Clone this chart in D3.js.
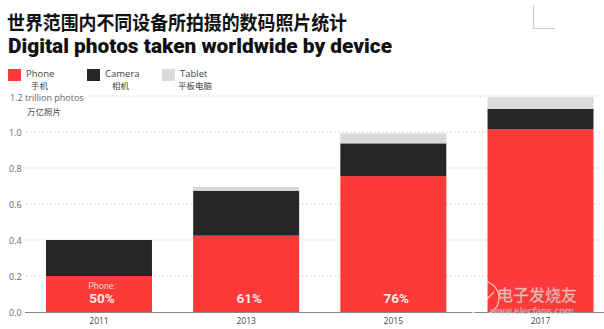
<!DOCTYPE html>
<html><head><meta charset="utf-8">
<script src="https://cdn.jsdelivr.net/npm/d3@7"></script>
<style>body{margin:0;background:#fff}svg{display:block}</style>
</head><body>
<script>
const years = ["2011","2013","2015","2017"];
const phone = [0.20, 0.424, 0.755, 1.015];
const camera = [0.20, 0.250, 0.182, 0.114];
const tablet = [0.00, 0.022, 0.056, 0.064];
const phoneShare = ["50%","61%","76%",""];
const yTicks = [0, 0.2, 0.4, 0.6, 0.8, 1.0];
const yTickLabels = ["0.0","0.2","0.4","0.6","0.8","1.0"];
const seriesNames = ["Phone","Camera","Tablet"];
const seriesNamesZh = ["手机","相机","平板电脑"];
const colors = ["#fd3a3a","#262626","#d9d9d9"];

const W = 604, H = 329;
const svg = d3.select("body").append("svg").attr("width", W).attr("height", H);

const x = d3.scaleBand().domain(years).range([46, 593.5]).paddingInner(0.28).paddingOuter(0);
const y = d3.scaleLinear().domain([0, 1.2]).range([312, 96]);

// titles
svg.append("text").attr("x", 7).attr("y", 30)
  .style("font-family", "'Noto Sans CJK SC'").style("font-weight", 700).style("font-size", "19.5px")
  .attr("fill", "#111").attr("textLength", 340).attr("lengthAdjust", "spacingAndGlyphs")
  .text("世界范围内不同设备所拍摄的数码照片统计");
svg.append("text").attr("x", 8).attr("y", 53)
  .style("font-family", "Roboto").style("font-weight", 900).style("font-size", "19.5px")
  .attr("fill", "#111").attr("textLength", 384).attr("lengthAdjust", "spacingAndGlyphs")
  .text("Digital photos taken worldwide by device");

// decorative corner mark
svg.append("path").attr("d", "M533.5,5V28.5H555").attr("fill", "none").attr("stroke", "#ccc").attr("stroke-width", 1.2);

// legend
const legX = [8, 87, 162];
const legZhX = [31, 112, 178];
seriesNames.forEach((n, i) => {
  svg.append("rect").attr("x", legX[i]).attr("y", 69).attr("width", 13).attr("height", 12).attr("fill", colors[i]);
  svg.append("text").attr("x", legX[i] + 18).attr("y", 77)
    .style("font-family", "'Open Sans'").style("font-size", "9.5px").attr("fill", "#444").text(n);
  svg.append("text").attr("x", legZhX[i]).attr("y", 88.5)
    .style("font-family", "'Noto Sans CJK SC'").style("font-size", "8.5px").attr("fill", "#444").text(seriesNamesZh[i]);
});

// gridlines
const grid = svg.append("g");
yTicks.filter(t => t > 0).forEach(t => {
  grid.append("line").attr("x1", 26).attr("x2", 602).attr("y1", y(t)).attr("y2", y(t))
    .attr("stroke", "#ccc").attr("stroke-dasharray", "1.5,2.5").attr("stroke-width", 1);
});
grid.append("line").attr("x1", 88).attr("x2", 602).attr("y1", y(1.2)).attr("y2", y(1.2))
  .attr("stroke", "#ccc").attr("stroke-dasharray", "1.5,2.5").attr("stroke-width", 1);

// y labels
const yAxis = d3.axisLeft(y).tickValues(yTicks).tickFormat((d, i) => yTickLabels[i]).tickSize(0);
const ya = svg.append("g").attr("transform", "translate(9,0)").call(yAxis);
ya.select(".domain").remove();
ya.selectAll("text").attr("text-anchor", "start").attr("x", 0).attr("dy", "0.35em")
  .style("font-family", "'Open Sans'").style("font-size", "9px").attr("fill", "#666");
svg.append("text").attr("x", 10).attr("y", 101)
  .style("font-family", "'Open Sans'").style("font-size", "9px").attr("fill", "#666").text("1.2 trillion photos");
svg.append("text").attr("x", 27).attr("y", 114.5)
  .style("font-family", "'Noto Sans CJK SC'").style("font-size", "8.5px").attr("fill", "#444").text("万亿照片");

// stacked bars
const rows = years.map((yr, i) => ({year: yr, Phone: phone[i], Camera: camera[i], Tablet: tablet[i]}));
const stack = d3.stack().keys(seriesNames)(rows);
stack.forEach((s, si) => {
  svg.append("g").attr("fill", colors[si]).selectAll("rect").data(s).join("rect")
    .attr("x", d => x(d.data.year)).attr("width", x.bandwidth())
    .attr("y", d => y(d[1])).attr("height", d => Math.max(0, y(d[0]) - y(d[1])));
});

// baseline axis
const xa = svg.append("g").attr("transform", "translate(0,312)")
  .call(d3.axisBottom(x).tickSize(0).tickPadding(6));
xa.select(".domain").remove();
svg.append("line").attr("x1", 25).attr("x2", 604).attr("y1", 312.5).attr("y2", 312.5).attr("stroke", "#888").attr("stroke-width", 1);
xa.selectAll("text").style("font-family", "'Open Sans'").style("font-size", "8.5px").attr("fill", "#444");

// phone share labels
years.forEach((yr, i) => {
  if (!phoneShare[i]) return;
  const cx = x(yr) + x.bandwidth() / 2 + 3;
  svg.append("text").attr("x", cx).attr("y", 303).attr("text-anchor", "middle")
    .style("font-family", "Roboto").style("font-weight", 700).style("font-size", "13.5px").attr("fill", "#fbe9e9").text(phoneShare[i]);
  if (i === 0) {
    svg.append("text").attr("x", cx).attr("y", 289).attr("text-anchor", "middle")
      .style("font-family", "Roboto").style("font-size", "9px").attr("fill", "#f6cfcf").text("Phone:");
  }
});

// watermark
const wm = svg.append("g").attr("opacity", 0.7);
wm.append("circle").attr("cx", 482).attr("cy", 298).attr("r", 17).attr("fill", "none").attr("stroke", "#fff").attr("stroke-width", 1.2);
wm.append("path").attr("d", "M470,304 L478,296 L486,300 L494,292").attr("fill", "none").attr("stroke", "#fff").attr("stroke-width", 1.2);
wm.append("text").attr("x", 497).attr("y", 301)
  .style("font-family", "'Noto Sans CJK SC'").style("font-size", "16px").attr("fill", "#fff")
  .attr("stroke", "#bbb").attr("stroke-width", 0.4).text("电子发烧友");
wm.append("text").attr("x", 490).attr("y", 314)
  .style("font-family", "'DejaVu Sans'").style("font-size", "9px").attr("fill", "#fff")
  .attr("stroke", "#aaa").attr("stroke-width", 0.3).text("www.elecfans.com");
</script>
</body></html>
